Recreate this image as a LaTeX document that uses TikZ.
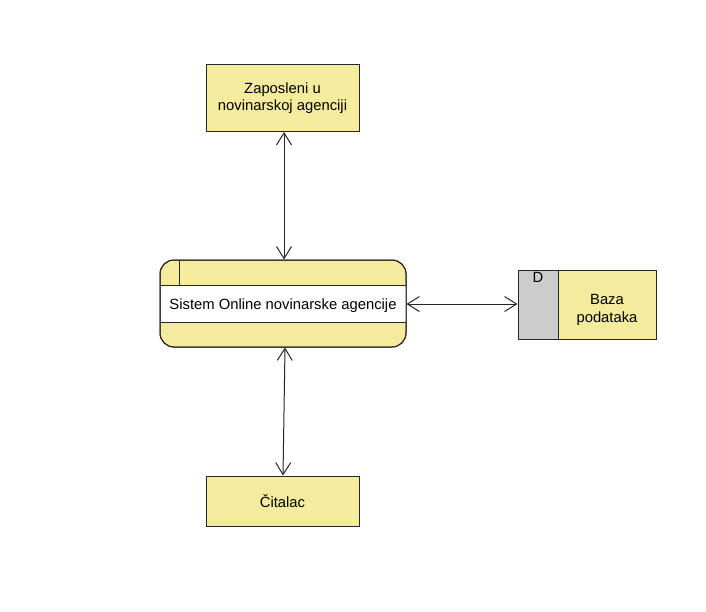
\documentclass[tikz,border=0pt]{standalone}
\usepackage{fontspec}
\setmainfont{Liberation Sans}
\usetikzlibrary{arrows.meta}
\definecolor{boxyellow}{HTML}{F5EB9C}
\definecolor{storegray}{HTML}{CCCCCC}
\tikzset{
  entity/.style={draw=black!85, fill=boxyellow, line width=1pt, minimum width=153pt, align=center, inner sep=0pt, font=\fontsize{14.8}{17.5}\selectfont},
  flow/.style={draw=black!85, line width=1pt, {Straight Barb[length=12pt,width=15pt]}-{Straight Barb[length=12pt,width=15pt]}},
  txt/.style={font=\fontsize{14.8}{17.5}\selectfont, inner sep=0pt}
}
\begin{document}
\begin{tikzpicture}[x=1pt,y=-1pt]
\useasboundingbox (0,0) rectangle (706,611);
% external entities
\node[entity, minimum height=67pt] (emp) at (282.5,98) {Zaposleni u\\novinarskoj agenciji};
\node[entity, minimum height=50pt] (read) at (282.5,501) {Čitalac};
% process
\node[draw=black!85, fill=boxyellow, line width=1pt, rounded corners=14pt, minimum width=246pt, minimum height=87pt, inner sep=0pt] (proc) at (283,303.5) {};
\fill[white] (160.5,285) rectangle (405.5,322);
\draw[black!85, line width=1pt] (160,285) -- (406,285) (160,322) -- (406,322) (179,260) -- (179,285);
\draw[black!85, line width=1pt, rounded corners=14pt] (160,260) rectangle (406,347);
\node[txt] (proctxt) at (283,306) {Sistem Online novinarske agencije};
% data store
\node[draw=black!85, fill=boxyellow, line width=1pt, minimum width=138pt, minimum height=69pt, inner sep=0pt] (store) at (587,304.5) {};
\fill[storegray] (518,270) rectangle (558,339);
\draw[black!85, line width=1pt] (518,270) rectangle (656,339) (558,270) -- (558,339);
\node[txt, anchor=north] (dlabel) at (538,272.5) {D};
\node[txt, align=center] (storetxt) at (607,310) {Baza\\podataka};
% flows
\draw[flow] (emp.south -| 284,0) -- (proc.north -| 284,0);
\draw[flow] (proc.south -| 285,0) -- (read.north -| 283,0);
\draw[flow] (proc.east |- 0,304) -- (store.west |- 0,304);
\end{tikzpicture}
\end{document}
